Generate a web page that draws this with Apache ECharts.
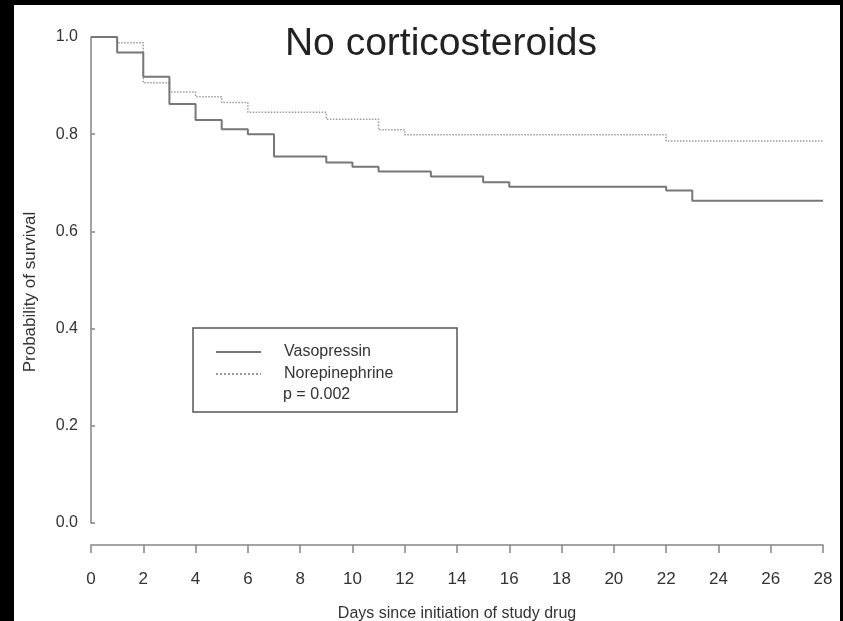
<!DOCTYPE html>
<html>
<head>
<meta charset="utf-8">
<script src="https://cdn.jsdelivr.net/npm/echarts@6/dist/echarts.min.js"></script>
<style>
  html, body {margin: 0; padding: 0; background: #000; width: 843px; height: 621px; overflow: hidden;}
  #chart {position: absolute; left: 14px; top: 5px; width: 826px; height: 616px; background: #fff;}
</style>
</head>
<body>
<div id="chart"></div>
<script>
// Kaplan-Meier steps (day, survival after that day)
const vasoDays = [0, 1, 2, 3, 4, 5, 6, 7, 9, 10, 11, 13, 15, 16, 22, 23, 28];
const vasoSurv = [1, 0.968, 0.918, 0.862, 0.829, 0.81, 0.8, 0.754, 0.742, 0.733, 0.723, 0.713, 0.701, 0.692, 0.684, 0.663, 0.663];
const norepiDays = [0, 1, 2, 3, 4, 5, 6, 9, 11, 12, 22, 28];
const norepiSurv = [1, 0.988, 0.906, 0.887, 0.877, 0.865, 0.845, 0.831, 0.809, 0.799, 0.786, 0.786];
const seriesNames = ['Vasopressin', 'Norepinephrine'];
const pValueText = 'p = 0.002';

const font = '"Liberation Sans", Arial, sans-serif';
const axisColor = '#858585';

const chart = echarts.init(document.getElementById('chart'));
chart.setOption({
  animation: false,
  textStyle: {fontFamily: font},
  grid: {left: 77, top: 32, width: 732, height: 486, containLabel: false, outerBoundsMode: 'none'},
  xAxis: {
    type: 'value',
    min: 0,
    max: 28,
    interval: 2,
    offset: 22,
    name: 'Days since initiation of study drug',
    nameLocation: 'middle',
    nameGap: 61,
    nameTextStyle: {fontSize: 16, color: '#333'},
    axisLine: {onZero: false, lineStyle: {color: axisColor, width: 1.5}},
    axisTick: {length: 8, lineStyle: {color: axisColor, width: 1.5}},
    axisLabel: {fontSize: 17, color: '#333', margin: 26},
    splitLine: {show: false}
  },
  yAxis: {
    type: 'value',
    min: 0,
    max: 1,
    interval: 0.2,
    name: 'Probability of survival',
    nameLocation: 'middle',
    nameGap: 52,
    nameTextStyle: {fontSize: 17, color: '#333', padding: [0, 24, 0, 0]},
    axisLine: {show: true, lineStyle: {color: axisColor, width: 1.5}},
    axisTick: {show: true, inside: true, length: 4, lineStyle: {color: axisColor, width: 1.5}},
    axisLabel: {fontSize: 16, color: '#333', margin: 13, formatter: v => v.toFixed(1)},
    splitLine: {show: false}
  },
  legend: {
    orient: 'vertical',
    left: 201,
    top: 339,
    padding: 0,
    itemWidth: 45,
    itemHeight: 14,
    itemGap: 6,
    itemStyle: {opacity: 0},
    textStyle: {fontSize: 16, color: '#333', padding: [0, 0, 0, 18]},
    data: seriesNames
  },
  graphic: [
    {
      type: 'text',
      x: 427,
      y: 39,
      style: {text: 'No corticosteroids', font: '39px ' + font, fill: '#222', textAlign: 'center', textVerticalAlign: 'middle'}
    },
    {
      type: 'rect',
      shape: {x: 179, y: 323, width: 264, height: 84},
      style: {fill: 'none', stroke: '#555', lineWidth: 1.5}
    },
    {
      type: 'text',
      x: 269,
      y: 382,
      style: {text: pValueText, font: '16px ' + font, fill: '#333'}
    }
  ],
  series: [
    {
      name: seriesNames[0],
      type: 'line',
      step: 'end',
      symbol: 'none',
      data: vasoDays.map((d, i) => [d, vasoSurv[i]]),
      lineStyle: {color: '#777', width: 2},
      itemStyle: {color: '#777'},
      z: 3
    },
    {
      name: seriesNames[1],
      type: 'line',
      step: 'end',
      symbol: 'none',
      data: norepiDays.map((d, i) => [d, norepiSurv[i]]),
      lineStyle: {color: '#9a9a9a', width: 1.5, type: 'dotted'},
      itemStyle: {color: '#9a9a9a'},
      z: 2
    }
  ]
});
</script>
</body>
</html>
